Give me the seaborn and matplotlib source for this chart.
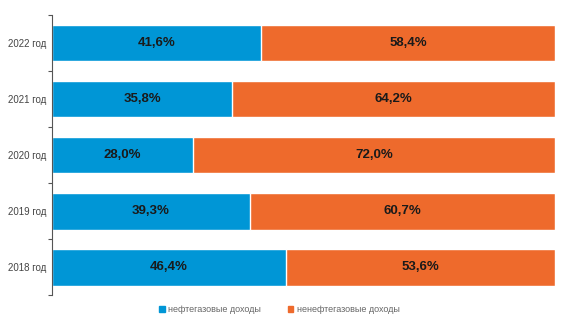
import matplotlib
matplotlib.use('Agg')
import matplotlib.pyplot as plt
import seaborn as sns
import pandas as pd
from matplotlib.patches import Patch

years = ['2022 год', '2021 год', '2020 год', '2019 год', '2018 год']
oil_gas = [41.6, 35.8, 28.0, 39.3, 46.4]
non_oil = [58.4, 64.2, 72.0, 60.7, 53.6]

blue = '#0096d6'
orange = '#ee6a2c'

sns.set_style('white')
plt.rcParams['font.family'] = ['Liberation Sans Narrow', 'Liberation Sans', 'DejaVu Sans']

df = pd.DataFrame({'year': years, 'oil': oil_gas, 'non': non_oil})
df['total'] = df['oil'] + df['non']

fig = plt.figure(figsize=(5.74, 3.26), dpi=100)
ax = fig.add_axes([0.0906, 0.095, 0.877, 0.859])

sns.barplot(data=df, x='total', y='year', color=orange, width=0.66, saturation=1, ax=ax)
sns.barplot(data=df, x='oil', y='year', color=blue, width=0.66, saturation=1, ax=ax)

for i, (a, b) in enumerate(zip(oil_gas, non_oil)):
    ax.text(a / 2, i, f'{a:.1f}%'.replace('.', ','), ha='center', va='center',
            fontsize=9.5, fontweight='bold', color='#1a1a1a')
    ax.text(a + b / 2, i, f'{b:.1f}%'.replace('.', ','), ha='center', va='center',
            fontsize=9.5, fontweight='bold', color='#1a1a1a')

ax.set_xlim(0, 100)
ax.set_ylim(len(years) - 0.5, -0.5)
ax.set_xlabel('')
ax.set_ylabel('')
ax.set_xticks([])
for s in ['top', 'right', 'bottom']:
    ax.spines[s].set_visible(False)
ax.spines['left'].set_color('#555555')
ax.spines['left'].set_linewidth(0.8)
ax.tick_params(axis='y', which='major', length=0, labelsize=7, labelcolor='#444444', pad=4)
ax.set_yticks([i + 0.5 for i in range(-1, len(years))], minor=True)
ax.tick_params(axis='y', which='minor', length=3, color='#555555', width=0.8, left=True)

handles = [Patch(color=blue, label='нефтегазовые доходы'),
           Patch(color=orange, label='ненефтегазовые доходы')]
fig.legend(handles=handles, loc='center', bbox_to_anchor=(0.487, 0.05), ncol=2,
           frameon=False, fontsize=6.5, handlelength=0.6, handleheight=0.6,
           columnspacing=3, handletextpad=0.4, labelcolor='#666666')

fig.savefig('out.png', dpi=100)
